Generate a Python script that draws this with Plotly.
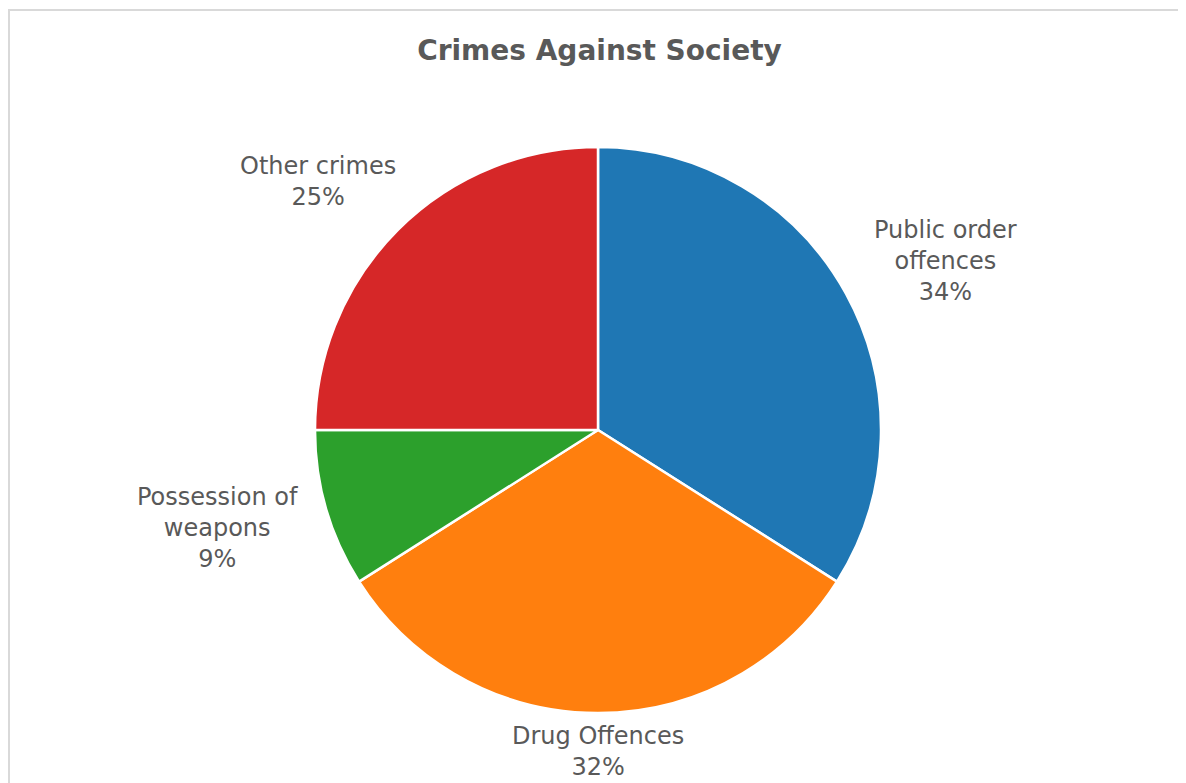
import math
import plotly.graph_objects as go

categories = ["Public order<br>offences", "Drug Offences", "Possession of<br>weapons", "Other crimes"]
values = [34, 32, 9, 25]
colors = ["#1f77b4", "#ff7f0e", "#2ca02c", "#d62728"]
title = "Crimes Against Society"

W, H = 1186, 783
OFF = 8  # page body margin
FS = 24
LAB_RX = 1.40   # horizontal label radius, as a multiple of the pie radius
LAB_RY = 1.24   # vertical label radius, as a multiple of the pie radius
TXT = "#595959"
dom_x = [(315 - OFF) / W, (881 - OFF) / W]
dom_y = [1 - (713 - OFF) / H, 1 - (147 - OFF) / H]

fig = go.Figure(go.Pie(
    labels=categories,
    values=values,
    sort=False,
    direction="clockwise",
    rotation=0,
    marker=dict(colors=colors, line=dict(color="white", width=2.5)),
    textinfo="none",
    hovertemplate="%{label}<br>%{percent:.0%}<extra></extra>",
    domain=dict(x=dom_x, y=dom_y),
    automargin=False,
))

# outside labels placed along each slice's mid-angle, kept inside the visible page
cx = (dom_x[0] + dom_x[1]) / 2 * W
cy = (1 - (dom_y[0] + dom_y[1]) / 2) * H
r = (dom_x[1] - dom_x[0]) * W / 2
vis_h = H - OFF
total = sum(values)
cum = 0
annotations = []
for lab, v in zip(categories, values):
    mid = (cum + v / 2) / total * 2 * math.pi
    cum += v
    pct = f"{round(v / total * 100)}%"
    n_lines = len(lab.split("<br>")) + 1
    h = n_lines * 1.3 * FS
    x = cx + r * LAB_RX * math.sin(mid)
    y = cy - r * LAB_RY * math.cos(mid)
    y = min(y, vis_h - h / 2)
    annotations.append(dict(
        x=x / W, y=1 - y / H, xref="paper", yref="paper",
        text=lab + "<br>" + pct, showarrow=False, align="center",
        xanchor="center", yanchor="middle",
        font=dict(family="DejaVu Sans, sans-serif", size=FS, color=TXT),
    ))

fig.update_layout(
    width=W, height=H,
    margin=dict(l=0, r=0, t=0, b=0),
    showlegend=False,
    paper_bgcolor="white",
    title=dict(text="<b>" + title + "</b>", x=(599.5 - OFF) / W, xanchor="center",
               y=1 - (50 - OFF) / H, yanchor="middle",
               font=dict(family="DejaVu Sans, sans-serif", size=28, color=TXT)),
    annotations=annotations,
    shapes=[dict(type="rect", xref="paper", yref="paper", x0=1 / W, x1=1.01, y0=-0.01, y1=1 - 2 / H,
                 line=dict(color="#d9d9d9", width=2), fillcolor="rgba(0,0,0,0)")],
)
fig.write_html("out.html")
